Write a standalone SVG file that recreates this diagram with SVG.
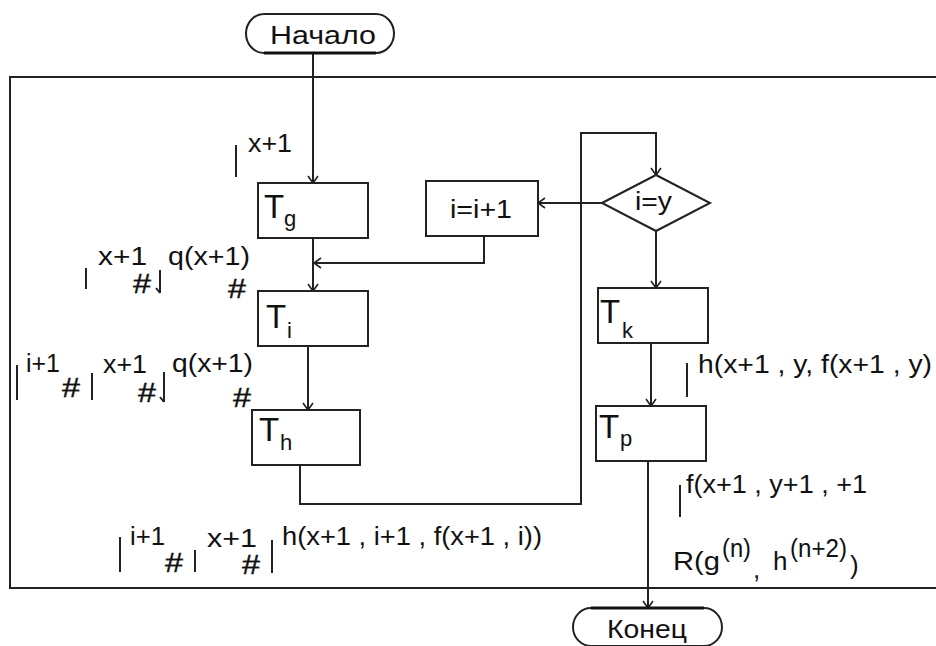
<svg xmlns="http://www.w3.org/2000/svg" width="936" height="646" viewBox="0 0 936 646">
<defs>
<style>
.t{font-family:"Liberation Sans",Arial,sans-serif;font-size:26px;fill:#111}
.h{font-family:"Liberation Sans",Arial,sans-serif;font-size:27px;fill:#111;stroke:#111;stroke-width:0.4}
.big{font-family:"Liberation Sans",Arial,sans-serif;font-size:33px;fill:#111}
.sub{font-family:"Liberation Sans",Arial,sans-serif;font-size:22px;fill:#111}
.box{fill:#fff;stroke:#222;stroke-width:2}
.ln{fill:none;stroke:#222;stroke-width:2}
.bar{fill:none;stroke:#222;stroke-width:2}
</style>
<marker id="ar" markerWidth="12" markerHeight="12" refX="10" refY="6" orient="auto" markerUnits="userSpaceOnUse">
<path d="M3,1 L10,6 L3,11" fill="none" stroke="#222" stroke-width="1.6"/>
</marker>
</defs>
<rect width="936" height="646" fill="#fff"/>
<g id="frame">
<path class="ln" d="M937,77 H10 V588 H937"/>
</g>
<g id="connectors">
<path class="ln" d="M313,53 V183" marker-end="url(#ar)"/>
<path class="ln" d="M313,238 V291" marker-end="url(#ar)"/>
<path class="ln" d="M484,236 V263 H314" marker-end="url(#ar)"/>
<path class="ln" d="M308,346 V410" marker-end="url(#ar)"/>
<path class="ln" d="M300,465 V504 H581 V133 H656 V175" marker-end="url(#ar)"/>
<path class="ln" d="M602,203 H538" marker-end="url(#ar)"/>
<path class="ln" d="M656,231 V288" marker-end="url(#ar)"/>
<path class="ln" d="M651,343 V406" marker-end="url(#ar)"/>
<path class="ln" d="M648,461 V608" marker-end="url(#ar)"/>
</g>
<g id="start">
<path class="box" d="M264,14 H376 A18,19.5 0 0 1 376,53 H264 A18,19.5 0 0 1 264,14 Z"/>
<path d="M264,53 H376" stroke="#111" stroke-width="3"/>
<text class="t" x="270" y="44" font-size="27" textLength="106" lengthAdjust="spacingAndGlyphs">Начало</text>
</g>
<g id="Tg">
<rect class="box" x="258" y="183" width="110" height="55"/>
<text class="big" x="264" y="218">T</text>
<text class="sub" x="284" y="226">g</text>
</g>
<g id="inc">
<rect class="box" x="426" y="181" width="112" height="55"/>
<text class="t" x="450" y="218" textLength="62" lengthAdjust="spacingAndGlyphs">i=i+1</text>
</g>
<g id="cond">
<path class="box" d="M602,203 L656,175 L710,203 L656,231 Z"/>
<text class="t" x="635" y="210" textLength="37" lengthAdjust="spacingAndGlyphs">i=y</text>
</g>
<g id="Ti">
<rect class="box" x="258" y="291" width="110" height="55"/>
<text class="big" x="266" y="328">T</text>
<text class="sub" x="287" y="338">i</text>
</g>
<g id="Th">
<rect class="box" x="252" y="410" width="108" height="55"/>
<text class="big" x="259" y="441">T</text>
<text class="sub" x="280" y="450">h</text>
</g>
<g id="Tk">
<rect class="box" x="598" y="288" width="110" height="55"/>
<text class="big" x="600" y="323">T</text>
<text class="sub" x="622" y="338">k</text>
</g>
<g id="Tp">
<rect class="box" x="596" y="406" width="110" height="55"/>
<text class="big" x="599" y="438">T</text>
<text class="sub" x="620" y="446">p</text>
</g>
<g id="end">
<path class="box" d="M591,608 H704 A18,19 0 0 1 704,646 H591 A18,19 0 0 1 591,608 Z"/>
<path d="M591,608 H704" stroke="#111" stroke-width="3"/>
<text class="t" x="607" y="638" font-size="26" textLength="80" lengthAdjust="spacingAndGlyphs">Конец</text>
</g>
<g id="labels">
<path class="bar" d="M236,145 V177"/>
<text class="t" x="248" y="152" textLength="44" lengthAdjust="spacingAndGlyphs">x+1</text>

<path class="bar" d="M86,268 V289"/>
<text class="t" x="98" y="265" textLength="49" lengthAdjust="spacingAndGlyphs">x+1</text>
<text class="h" x="133" y="293" textLength="18" lengthAdjust="spacingAndGlyphs">#</text>
<path class="bar" d="M160,270 V293 M156,288 L160,293"/>
<text class="t" x="168" y="265" textLength="82" lengthAdjust="spacingAndGlyphs">q(x+1)</text>
<text class="h" x="228" y="298" textLength="18" lengthAdjust="spacingAndGlyphs">#</text>

<path class="bar" d="M17,365 V400"/>
<text class="t" x="26" y="372" textLength="34" lengthAdjust="spacingAndGlyphs">i+1</text>
<text class="h" x="62" y="397" textLength="18" lengthAdjust="spacingAndGlyphs">#</text>
<path class="bar" d="M92,373 V400"/>
<text class="t" x="103" y="373" textLength="44" lengthAdjust="spacingAndGlyphs">x+1</text>
<text class="h" x="138" y="402" textLength="18" lengthAdjust="spacingAndGlyphs">#</text>
<path class="bar" d="M164,372 V402 M160,397 L164,402"/>
<text class="t" x="172" y="372" textLength="81" lengthAdjust="spacingAndGlyphs">q(x+1)</text>
<text class="h" x="233" y="407" textLength="18" lengthAdjust="spacingAndGlyphs">#</text>

<path class="bar" d="M120,537 V572"/>
<text class="t" x="130" y="545" textLength="35" lengthAdjust="spacingAndGlyphs">i+1</text>
<text class="h" x="165" y="572" textLength="18" lengthAdjust="spacingAndGlyphs">#</text>
<path class="bar" d="M195,550 V572"/>
<text class="t" x="207" y="547" textLength="50" lengthAdjust="spacingAndGlyphs">x+1</text>
<text class="h" x="242" y="574" textLength="18" lengthAdjust="spacingAndGlyphs">#</text>
<path class="bar" d="M272,540 V573"/>
<text class="t" x="282" y="545" textLength="260" lengthAdjust="spacingAndGlyphs">h(x+1 , i+1 , f(x+1 , i))</text>

<path class="bar" d="M687,363 V397"/>
<text class="t" x="698" y="373" textLength="234" lengthAdjust="spacingAndGlyphs">h(x+1 , y, f(x+1 , y)</text>

<path class="bar" d="M680,485 V517"/>
<text class="t" x="686" y="493" textLength="181" lengthAdjust="spacingAndGlyphs">f(x+1 , y+1 , +1</text>

<text class="t" x="673" y="570" font-size="28" textLength="47" lengthAdjust="spacingAndGlyphs">R(g</text>
<text class="t" x="722" y="557" font-size="22" textLength="29" lengthAdjust="spacingAndGlyphs">(n)</text>
<text class="t" x="753" y="578" font-size="20">,</text>
<text class="t" x="773" y="570" font-size="28">h</text>
<text class="t" x="790" y="557" font-size="22" textLength="57" lengthAdjust="spacingAndGlyphs">(n+2)</text>
<text class="t" x="850" y="574" font-size="24">)</text>
</g>
</svg>
